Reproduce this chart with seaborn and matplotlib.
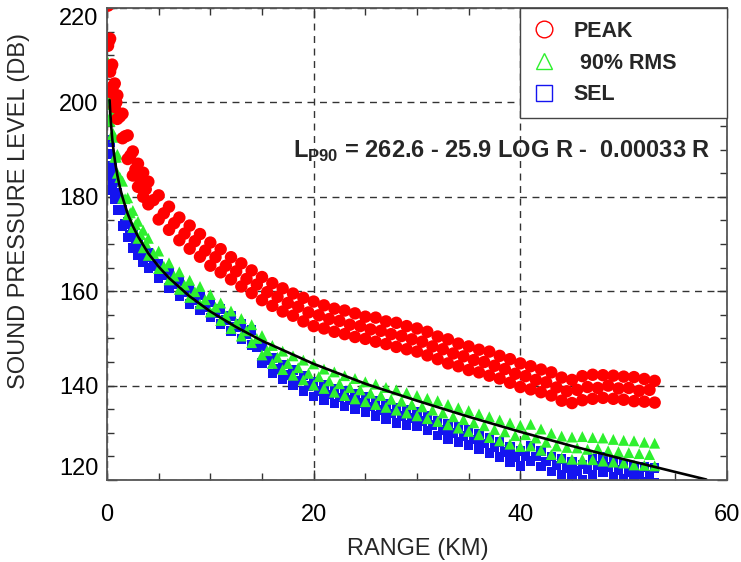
import matplotlib
matplotlib.use("Agg")
import matplotlib.pyplot as plt
from matplotlib.lines import Line2D
from matplotlib.ticker import MultipleLocator
import pandas as pd
import seaborn as sns

# -- data --------------------------------------------------------------------

# ranges (km) for the upper / lower edge of each band
RANGE_KM = [0.1, 0.3, 0.5, 0.75, 1, 1.5, 2, 2.5, 3, 3.5, 4,
            5, 6, 7, 8, 9, 10, 11, 12, 13, 14, 15, 16, 17, 18, 19, 20,
            21, 22, 23, 24, 25, 26, 27, 28, 29, 30, 31, 32, 33, 34, 35, 36,
            37, 38, 39, 40, 41, 42, 43, 44, 45, 46, 47, 48, 49, 50, 51, 52, 53]
# ranges (km) for the middle of each band
RANGE_MID_KM = [0.2, 0.4, 0.6, 0.9, 1.25, 1.75, 2.25, 2.75, 3.25, 3.75,
                4.5, 5.5, 6.5, 7.5, 8.5, 9.5, 10.5, 11.5, 12.5, 13.5, 14.5,
                15.5, 16.5, 17.5, 18.5, 19.5, 20.5, 21.5, 22.5, 23.5, 24.5,
                25.5, 26.5, 27.5, 28.5, 29.5, 30.5, 31.5, 32.5, 33.5, 34.5,
                35.5, 36.5, 37.5, 38.5, 39.5, 40.5, 41.5, 42.5, 43.5, 44.5,
                45.5, 46.5, 47.5, 48.5, 49.5, 50.5, 51.5, 52.5]

PEAK_HI = [220.5, 213.5, 208, 204, 201.5, 197.6, 193, 189.6, 187, 185.1, 183.2,
           180.3, 177.9, 175.6, 173.9, 172.1, 170.3, 168.9, 167.2, 165.9, 164.4,
           163.0, 161.7, 160.6, 159.5, 158.6, 157.8, 157.0, 156.3, 155.9, 155.3,
           154.6, 154.4, 153.6, 153.3, 152.6, 152.1, 151.4, 150.4, 149.8, 148.9,
           148.3, 147.6, 147.2, 146.3, 145.6, 144.7, 144.1, 143.4, 142.8, 141.7,
           141.2, 142.0, 142.3, 142.2, 142.1, 141.9, 141.8, 141.4, 141.0]
PEAK_MID = [213, 207.5, 203.5, 200, 197, 192.8, 188.7, 185.8, 183.5, 181.6,
            179.3, 176.5, 174.4, 172.2, 170.6, 168.6, 167.2, 165.4, 164.2, 162.6,
            161.4, 159.8, 158.8, 157.5, 156.7, 155.5, 154.9, 154.1, 153.7, 152.9,
            152.6, 151.9, 151.6, 150.9, 150.5, 149.8, 149.3, 148.3, 147.7, 146.8,
            146.2, 145.4, 145.0, 144.2, 143.5, 142.5, 142.0, 141.2, 140.7, 139.6,
            138.8, 139.1, 139.7, 139.5, 140.0, 139.4, 139.5, 138.9, 139.1]
PEAK_LO = [212, 206.5, 202, 199, 196.5, 192.4, 188, 184.5, 182.1, 180, 178.4,
           175.2, 173, 170.8, 169, 167.3, 165.4, 164, 162.5, 161, 159.6,
           158.1, 156.9, 155.7, 154.8, 153.6, 152.6, 152.1, 151.4, 150.9, 150.3,
           149.9, 149.3, 148.8, 148.2, 147.7, 147.2, 146.4, 145.6, 144.7, 144.1,
           143.3, 142.8, 142.1, 141.5, 140.6, 139.7, 139.2, 138.6, 137.9, 136.8,
           136.3, 136.9, 137.2, 137.4, 137.2, 137.0, 136.7, 136.6, 136.4]

RMS_HI = [208.5, 202, 197.8, 192.6, 189, 183.3, 179.8, 177.1, 174.8, 172.9, 171.2,
          168.5, 166.0, 164.1, 162.3, 161.0, 159.3, 157.5, 155.8, 154.2, 152.9,
          150.6, 148.5, 147.3, 146.3, 145.4, 144.6, 143.5, 142.9, 142.1, 141.5,
          140.8, 140.3, 139.6, 139.1, 138.5, 137.9, 137.3, 136.8, 136.0, 135.3,
          134.7, 134.0, 133.4, 132.7, 132.1, 131.6, 131.8, 130.8, 129.9, 129.3,
          129.1, 129.2, 129.0, 128.9, 128.6, 128.4, 128.3, 128.0, 127.8]
RMS_MID = [201.5, 197, 193.4, 188.4, 184.1, 179.6, 176.6, 174.1, 172.0, 170.2,
           168.0, 165.3, 163.2, 161.3, 159.9, 158.2, 156.6, 154.8, 153.2, 151.6,
           150.0, 147.4, 146.0, 144.7, 143.8, 142.6, 141.9, 141.0, 140.4, 139.6,
           139.1, 138.4, 137.9, 137.1, 136.7, 136.0, 135.5, 134.8, 134.2, 133.4,
           132.8, 132.1, 131.5, 130.7, 130.2, 129.4, 129.6, 128.9, 128.0, 127.2,
           126.9, 126.8, 126.5, 126.7, 126.2, 126.0, 125.8, 125.6, 125.4]
RMS_LO = [199.5, 196, 193.2, 188.4, 185, 179.7, 176.2, 173.5, 171.2, 169.2, 167.6,
          164.8, 162.4, 160.4, 158.7, 157.3, 155.6, 153.8, 152.1, 150.5, 149.1,
          146.5, 144.7, 143.4, 142.2, 141.2, 140.1, 139.4, 138.6, 137.9, 137.2,
          136.6, 136.0, 135.4, 134.8, 134.2, 133.6, 133.0, 132.4, 131.7, 131.0,
          130.3, 129.6, 129.0, 128.3, 127.6, 127.1, 127.2, 126.3, 125.4, 124.7,
          124.4, 124.4, 124.3, 124.0, 123.8, 123.6, 123.2, 123.1, 123.0]

SEL_HI = [201, 191.5, 186.5, 183.5, 180.8, 177.2, 174.6, 172.4, 170.8, 169.4, 168.1,
          165.9, 163.9, 162.1, 160.5, 159.1, 157.6, 156.2, 154.8, 153.1, 151.8,
          148.3, 145.8, 144.5, 143.3, 142.1, 140.9, 140.1, 139.4, 138.8, 138.2,
          137.6, 136.8, 136.1, 135.3, 134.9, 134.5, 133.7, 132.6, 131.9, 131.3,
          130.6, 129.8, 128.9, 128.1, 127.0, 126.2, 127.2, 126.1, 125.0, 124.4,
          123.8, 123.3, 124.4, 124.9, 123.9, 123.5, 122.9, 122.7, 122.6]
SEL_MID = [192, 186, 183, 180, 177.2, 174.2, 171.9, 170.0, 168.5, 167.1,
           165.4, 163.3, 161.4, 159.7, 158.2, 156.7, 155.3, 153.9, 152.4, 150.9,
           148.2, 145.3, 143.5, 142.3, 141.1, 139.9, 138.9, 138.1, 137.5, 136.9,
           136.3, 135.6, 134.8, 134.1, 133.5, 133.1, 132.5, 131.6, 130.6, 130.0,
           129.3, 128.6, 127.7, 126.9, 125.9, 124.9, 125.1, 125.0, 123.9, 123.1,
           122.5, 121.9, 122.2, 123.1, 122.8, 122.1, 121.6, 121.2, 121.0]
SEL_LO = [189, 184.5, 181.5, 179.5, 177.2, 173.8, 171.4, 169.2, 167.6, 166.2, 164.9,
          162.7, 160.7, 158.9, 157.3, 155.9, 154.4, 153.0, 151.6, 149.9, 148.6,
          144.8, 142.6, 141.3, 140.1, 138.9, 137.7, 136.9, 136.2, 135.6, 135.0,
          134.4, 133.6, 132.9, 132.1, 131.7, 131.3, 130.5, 129.4, 128.7, 128.1,
          127.4, 126.6, 125.7, 124.9, 123.8, 123.0, 124.0, 122.9, 121.8, 121.2,
          120.6, 120.1, 121.2, 121.7, 120.7, 120.3, 119.8, 119.6, 119.5]

# regression line L = 262.6 - 25.9 log R - 0.00033 R (R in m)
FIT_RANGE_KM = [0.25, 0.3, 0.4, 0.5, 0.6, 0.8, 1.0, 1.25, 1.5, 2, 2.5, 3, 4, 5,
                6, 8, 10, 12.5, 15, 20, 25, 30, 35, 40, 45, 50, 55, 58]
FIT_LEVEL_DB = [200.5, 198.4, 195.1, 192.5, 190.4, 187.1, 184.6, 182.0, 179.9,
                176.4, 173.8, 171.6, 168.0, 165.2, 162.8, 158.9, 155.7, 152.4,
                149.5, 144.6, 140.4, 136.8, 133.4, 130.2, 127.2, 124.4, 121.7,
                120.1]

SERIES = ["PEAK", " 90% RMS", "SEL"]
COLORS = {"PEAK": "#ff0000", " 90% RMS": "#2ef02e", "SEL": "#1414f0"}
MARKERS = {"PEAK": "o", " 90% RMS": "^", "SEL": "s"}
SIZES = {"PEAK": 80, " 90% RMS": 62, "SEL": 48}

# -- build long table --------------------------------------------------------

def band(name, hi, mid, lo):
    parts = [
        pd.DataFrame({"range_km": RANGE_KM, "level_db": hi}),
        pd.DataFrame({"range_km": RANGE_MID_KM, "level_db": mid}),
        pd.DataFrame({"range_km": RANGE_KM, "level_db": lo}),
    ]
    out = pd.concat(parts, ignore_index=True)
    out["series"] = name
    return out


df = pd.concat([
    band("SEL", SEL_HI, SEL_MID, SEL_LO),
    band(" 90% RMS", RMS_HI, RMS_MID, RMS_LO),
    band("PEAK", PEAK_HI, PEAK_MID, PEAK_LO),
], ignore_index=True)

# -- style -------------------------------------------------------------------

sns.set_style("ticks")
plt.rcParams["font.family"] = ["Liberation Sans", "DejaVu Sans"]
plt.rcParams["mathtext.fontset"] = "custom"
plt.rcParams["mathtext.rm"] = "Liberation Sans"
plt.rcParams["mathtext.bf"] = "Liberation Sans:bold"

fig = plt.figure(figsize=(7.41, 5.62), dpi=100)
ax = fig.add_axes([0.1444, 0.1459, 0.8367, 0.8399])

sns.scatterplot(
    data=df, x="range_km", y="level_db",
    hue="series", style="series", size="series",
    palette=COLORS, markers=MARKERS, sizes=SIZES,
    linewidth=0, legend=False, ax=ax,
)
sns.lineplot(x=FIT_RANGE_KM, y=FIT_LEVEL_DB, color="black", linewidth=1.9,
             sort=False, ax=ax)

ax.set_xlim(0, 60)
ax.set_ylim(120, 220)
ax.xaxis.set_major_locator(MultipleLocator(20))
ax.xaxis.set_minor_locator(MultipleLocator(5))
ax.yaxis.set_major_locator(MultipleLocator(20))
ax.yaxis.set_minor_locator(MultipleLocator(5))
ax.tick_params(which="both", direction="in", top=True, right=True,
               colors="#333333", labelcolor="black", width=1)
ax.tick_params(which="major", length=7.5, labelsize=17)
ax.tick_params(which="minor", length=5)
ax.tick_params(axis="x", which="major", pad=17)
ax.tick_params(axis="y", which="major", pad=6)
ax.grid(True, which="major", color="#333333", linestyle=(0, (5, 4)), linewidth=1)
for sp in ax.spines.values():
    sp.set_color("#555555")
    sp.set_linewidth(1.3)

ax.set_xlabel("RANGE (KM)", fontsize=17)
ax.set_ylabel("SOUND PRESSURE LEVEL (DB)", fontsize=17)
ax.xaxis.set_label_coords(0.502, -0.122)
ax.yaxis.set_label_coords(-0.124, 0.57)

ax.text(18.0, 188.3,
        r"$\mathbf{L}_{\mathbf{P90}}$ = 262.6 - 25.9 LOG R -  0.00033 R",
        fontsize=17, fontweight="bold", ha="left", va="baseline")

handles = [
    Line2D([], [], linestyle="none", marker=MARKERS[n], markersize=12,
           markerfacecolor="none", markeredgecolor=COLORS[n], markeredgewidth=1)
    for n in SERIES
]
leg = ax.legend(
    handles, SERIES, loc="upper right",
    bbox_to_anchor=(0.666, 0.0, 0.334, 1.0), mode="expand", borderaxespad=0,
    frameon=True, fancybox=False, framealpha=1,
    prop={"family": "Liberation Sans", "weight": "bold", "size": 15.5},
    handlelength=1.0, handletextpad=0.9, labelspacing=0.5, borderpad=0.6,
)
leg.get_frame().set_edgecolor("#444444")
leg.get_frame().set_linewidth(1.0)

# first / last y tick labels sit inside the axis range, as in the original
fig.canvas.draw()
for tick in ax.yaxis.get_major_ticks():
    if abs(tick.get_loc() - 120) < 1e-6:
        tick.label1.set_va("bottom")
    elif abs(tick.get_loc() - 220) < 1e-6:
        tick.label1.set_va("top")

fig.savefig("out.png", dpi=100)
